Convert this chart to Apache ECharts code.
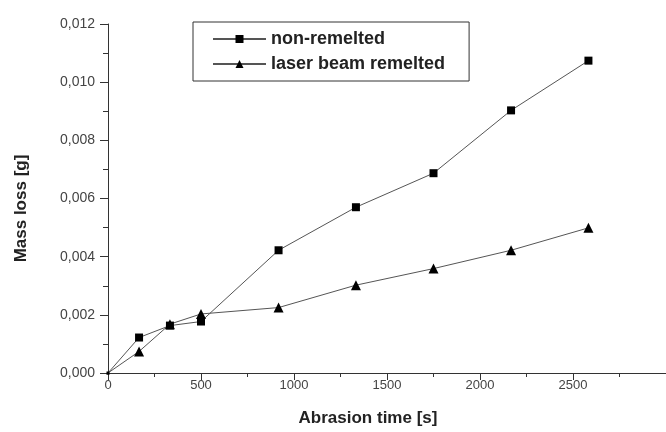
<!DOCTYPE html>
<html>
<head>
<meta charset="utf-8">
<script src="https://cdn.jsdelivr.net/npm/echarts@6/dist/echarts.min.js"></script>
<style>
  html, body { margin: 0; padding: 0; background: #fff; }
  #main { width: 666px; height: 432px; }
</style>
</head>
<body>
<div id="main"></div>
<script>
// abrasion time [s]
const times = [0, 167, 333, 500, 917, 1333, 1750, 2167, 2583];
// mass loss [g]
const nonRemelted = [0, 0.00122, 0.00163, 0.00177, 0.00422, 0.00570, 0.00687, 0.00903, 0.01074];
const laserRemelted = [0, 0.00074, 0.00168, 0.00203, 0.00225, 0.00302, 0.00359, 0.00422, 0.00499];

const font = '"Liberation Sans", Arial, sans-serif';
const ink = '#222';

const toPairs = (ys) => times.map((t, i) => [t, ys[i]]);
const markSize = (big) => (v) => (v[0] === 0 ? 3 : big);

const chart = echarts.init(document.getElementById('main'));

chart.setOption({
  animation: false,
  textStyle: { fontFamily: font },
  grid: { left: 108, top: 24, bottom: 57, right: -11 },
  legend: {
    left: 193,
    top: 22,
    orient: 'vertical',
    itemWidth: 53,
    itemHeight: 10,
    itemGap: 7,
    padding: [8, 24, 8, 19],
    borderColor: '#333',
    borderWidth: 1,
    textStyle: { fontFamily: font, fontSize: 18, fontWeight: 'bold', color: ink }
  },
  xAxis: {
    type: 'value',
    min: 0,
    max: 3000,
    interval: 500,
    name: 'Abrasion time [s]',
    nameLocation: 'middle',
    nameGap: 37,
    nameTextStyle: { fontSize: 17, fontWeight: 'bold', color: ink, padding: [0, 38, 0, 0] },
    axisLine: { lineStyle: { color: '#333' } },
    axisTick: { inside: false, length: 7, lineStyle: { color: '#333' } },
    minorTick: { show: true, splitNumber: 2, length: 4, lineStyle: { color: '#333' } },
    axisLabel: { fontSize: 13, color: '#444', margin: 6, showMaxLabel: false, formatter: (v) => String(v) },
    splitLine: { show: false }
  },
  yAxis: {
    type: 'value',
    min: 0,
    max: 0.012,
    interval: 0.002,
    name: 'Mass loss [g]',
    nameLocation: 'middle',
    nameGap: 78,
    nameTextStyle: { fontSize: 17, fontWeight: 'bold', color: ink, padding: [0, 20, 0, 0] },
    axisLine: { show: true, lineStyle: { color: '#333' } },
    axisTick: { show: true, length: 8, lineStyle: { color: '#333' } },
    minorTick: { show: true, splitNumber: 2, length: 5, lineStyle: { color: '#333' } },
    axisLabel: {
      fontSize: 14,
      color: '#444',
      margin: 13,
      formatter: (v) => v.toFixed(3).replace('.', ',')
    },
    splitLine: { show: false }
  },
  series: [
    {
      name: 'non-remelted',
      type: 'line',
      symbol: 'rect',
      symbolSize: markSize(8),
      itemStyle: { color: '#000' },
      lineStyle: { color: '#555', width: 1 },
      data: toPairs(nonRemelted)
    },
    {
      name: 'laser beam remelted',
      type: 'line',
      symbol: 'triangle',
      symbolSize: markSize(10),
      itemStyle: { color: '#000' },
      lineStyle: { color: '#555', width: 1 },
      data: toPairs(laserRemelted)
    }
  ]
});
</script>
</body>
</html>
